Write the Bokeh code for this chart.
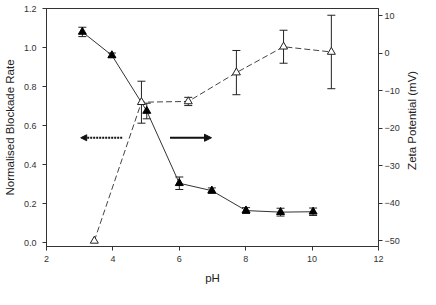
import math
from bokeh.plotting import figure
from bokeh.layouts import row
from bokeh.core.properties import value
from bokeh.models import (LinearAxis, Range1d, FixedTicker, PrintfTickFormatter,
                          ColumnDataSource, Whisker, TeeHead, Arrow, NormalHead)
from bokeh.embed import file_html
from bokeh.resources import INLINE

# ---- data ----
ph_rate = [3.08, 3.97, 5.02, 6.00, 6.98, 8.01, 9.05, 10.03]
rate = [1.08, 0.96, 0.675, 0.305, 0.267, 0.165, 0.157, 0.159]
rate_err = [0.024, 0.012, 0.040, 0.032, 0.014, 0.015, 0.020, 0.019]

ph_zeta = [3.44, 4.86, 6.27, 7.72, 9.14, 10.58]
zeta = [-50.0, -13.0, -12.8, -5.1, 1.8, 0.4]
zeta_err = [0.0, 5.6, 1.1, 5.9, 4.4, 9.8]

x_ticks = [2, 4, 6, 8, 10, 12]
left_ticks = [0.0, 0.2, 0.4, 0.6, 0.8, 1.0, 1.2]
right_ticks = [-50, -40, -30, -20, -10, 0, 10]

x_title = "pH"
left_title = "Normalised Blockade Rate"
right_title = "Zeta Potential (mV)"

# arrow annotations (data units, left axis)
arrow_left = (4.28, 3.03, 0.538)
arrow_right = (5.72, 6.97, 0.538)

FONT = "Liberation Sans"
AX = "#333333"
TOP, BOTTOM = 8, 43

p = figure(width=402, height=289, output_backend="svg", toolbar_location=None,
           x_range=Range1d(2, 12), y_range=Range1d(-0.019, 1.2),
           min_border_left=44, min_border_right=24, min_border_top=TOP,
           min_border_bottom=BOTTOM)
p.background_fill_color = "white"
p.border_fill_color = "white"
p.outline_line_color = AX
p.outline_line_width = 1
p.xgrid.visible = False
p.ygrid.visible = False

p.extra_y_ranges = {"zeta": Range1d(-51.5, 12)}
right_axis = LinearAxis(y_range_name="zeta")
p.add_layout(right_axis, "right")

for ax in [p.xaxis[0], p.yaxis[0], right_axis]:
    ax.axis_line_color = AX
    ax.major_tick_line_color = AX
    ax.minor_tick_line_color = None
    ax.major_tick_out = 4
    ax.major_tick_in = 0
    ax.major_label_text_font = FONT
    ax.major_label_text_font_size = "9px"
    ax.major_label_text_color = "#333333"
    ax.axis_label_text_font = FONT
    ax.axis_label_text_font_size = "11.5px"
    ax.axis_label_text_font_style = "normal"
    ax.axis_label_text_color = "#222222"

p.xaxis[0].ticker = FixedTicker(ticks=x_ticks)
p.xaxis[0].axis_label = x_title
p.xaxis[0].major_label_standoff = 5
p.xaxis[0].axis_label_standoff = 7
p.yaxis[0].ticker = FixedTicker(ticks=left_ticks)
p.yaxis[0].formatter = PrintfTickFormatter(format="%.1f")
p.yaxis[0].axis_label = left_title
p.yaxis[0].major_label_standoff = 6
p.yaxis[0].axis_label_standoff = 5
right_axis.ticker = FixedTicker(ticks=right_ticks)
right_axis.major_label_standoff = 2

# blockade rate (left axis)
src_r = ColumnDataSource(dict(x=ph_rate, y=rate,
                              lo=[v - e for v, e in zip(rate, rate_err)],
                              hi=[v + e for v, e in zip(rate, rate_err)]))
p.line("x", "y", source=src_r, line_color="#333333", line_width=1)
p.add_layout(Whisker(source=src_r, base="x", lower="lo", upper="hi",
                     line_color="#222222", line_width=1,
                     upper_head=TeeHead(size=8, line_color="#222222", line_width=1),
                     lower_head=TeeHead(size=8, line_color="#222222", line_width=1)))
p.scatter("x", "y", source=src_r, marker="triangle", size=8,
          fill_color="black", line_color="black")

# zeta potential (right axis)
src_z = ColumnDataSource(dict(x=ph_zeta, y=zeta))
idx = [i for i, e in enumerate(zeta_err) if e > 0]
src_ze = ColumnDataSource(dict(x=[ph_zeta[i] for i in idx],
                               lo=[zeta[i] - zeta_err[i] for i in idx],
                               hi=[zeta[i] + zeta_err[i] for i in idx]))
p.line("x", "y", source=src_z, y_range_name="zeta", line_color="#444444",
       line_width=1, line_dash="6 3")
p.add_layout(Whisker(source=src_ze, base="x", lower="lo", upper="hi",
                     y_range_name="zeta", line_color="#222222", line_width=1,
                     upper_head=TeeHead(size=8, line_color="#222222", line_width=1),
                     lower_head=TeeHead(size=8, line_color="#222222", line_width=1)))
p.scatter("x", "y", source=src_z, y_range_name="zeta", marker="triangle", size=8,
          fill_color="white", line_color="#222222", line_width=1)

# arrows
p.add_layout(Arrow(x_start=arrow_left[0], x_end=arrow_left[1],
                   y_start=arrow_left[2], y_end=arrow_left[2],
                   line_width=2, line_dash="2 1", line_color="#111111",
                   end=NormalHead(size=6, fill_color="#111111", line_color="#111111")))
p.add_layout(Arrow(x_start=arrow_right[0], x_end=arrow_right[1],
                   y_start=arrow_right[2], y_end=arrow_right[2],
                   line_width=2, line_color="#111111",
                   end=NormalHead(size=7, fill_color="#111111", line_color="#111111")))

# right-hand axis title in a narrow strip, reading bottom to top
t = figure(width=18, height=289, output_backend="svg", toolbar_location=None,
           x_range=Range1d(-1, 1), y_range=Range1d(-1, 1),
           x_axis_type=None, y_axis_type=None,
           min_border_left=0, min_border_right=0, min_border_top=TOP,
           min_border_bottom=BOTTOM)
t.outline_line_color = None
t.background_fill_color = "white"
t.border_fill_color = "white"
t.xgrid.visible = False
t.ygrid.visible = False
t.text(x=[0], y=[0.06], text=[right_title], angle=math.pi / 2,
       text_align="center", text_baseline="middle",
       text_font=value(FONT), text_font_size=value("11.5px"), text_color="#222222")

layout = row(p, t, spacing=0)
open("out.html", "w").write(file_html(layout, INLINE))
